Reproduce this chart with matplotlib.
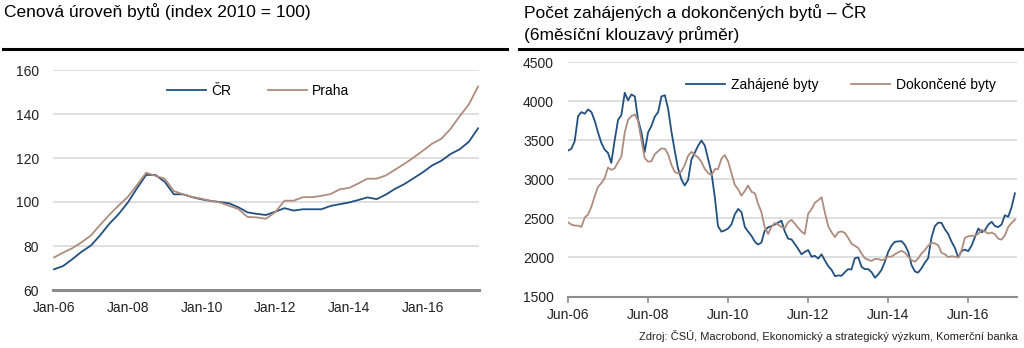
import matplotlib
matplotlib.use("Agg")
import matplotlib.pyplot as plt
import matplotlib.dates as mdates
from matplotlib.lines import Line2D
import pandas as pd

plt.rcParams['font.family'] = ['Liberation Sans', 'DejaVu Sans']

BLUE = '#23507f'
BROWN = '#ae8c7e'
GRID = '#d9d9d9'
AXIS = '#8c8c8c'

# --- left chart: price index, quarterly (Q1 2006 .. Q3 2017)
price_dates = pd.date_range('2006-01-01', periods=47, freq='QS')
cr = [69.4, 70.9, 74.0, 77.4, 80.2, 84.8, 90.0, 94.4, 99.7, 106.2,
      112.3, 112.3, 109.2, 103.5, 103.5, 102.2, 101.2, 100.5, 100.0, 99.4,
      97.6, 95.3, 94.6, 94.1, 95.6, 97.2, 96.1, 96.7, 96.7, 96.7,
      98.2, 99.0, 99.8, 100.9, 102.1, 101.3, 103.4, 106.0, 108.1, 110.8,
      113.5, 116.6, 118.7, 121.8, 124.0, 127.4, 133.5]
praha = [74.8, 77.0, 79.0, 81.7, 84.8, 89.5, 94.1, 98.3, 102.3, 107.6,
         113.3, 111.9, 110.6, 105.0, 103.5, 102.3, 101.5, 100.5, 99.8, 98.3,
         96.8, 93.2, 93.0, 92.4, 95.4, 100.6, 100.6, 102.2, 102.2, 102.8,
         103.6, 105.8, 106.4, 108.4, 110.6, 110.6, 112.1, 114.7, 117.3, 120.2,
         123.3, 126.5, 128.7, 133.2, 139.1, 144.4, 152.5]

# --- right chart: housing starts / completions, monthly (Jun 2006 .. Aug 2017)
flat_dates = pd.date_range('2006-06-01', periods=135, freq='MS')
zahajene = [3367, 3389, 3487, 3808, 3859, 3838, 3893, 3859, 3744, 3603,
            3466, 3380, 3338, 3209, 3500, 3760, 3820, 4107, 4010, 4085,
            4060, 3765, 3600, 3350, 3600, 3680, 3800, 3860, 4060, 4075,
            3900, 3600, 3350, 3140, 3000, 2920, 2990, 3250, 3340, 3430,
            3495, 3430, 3260, 3080, 2760, 2400, 2330, 2345, 2370, 2420,
            2550, 2620, 2580, 2390, 2330, 2275, 2200, 2165, 2190, 2340,
            2385, 2400, 2420, 2445, 2470, 2330, 2240, 2230, 2170, 2110,
            2040, 2070, 2095, 2010, 2020, 1985, 2040, 1960, 1890, 1840,
            1760, 1770, 1765, 1810, 1850, 1845, 1990, 2000, 1880, 1850,
            1850, 1810, 1740, 1780, 1840, 1940, 2070, 2150, 2200, 2205,
            2208, 2160, 2073, 1900, 1820, 1805, 1860, 1930, 1990, 2250,
            2400, 2445, 2442, 2360, 2300, 2200, 2120, 2000, 2080, 2100,
            2080, 2150, 2260, 2370, 2320, 2350, 2420, 2455, 2400, 2388,
            2420, 2540, 2520, 2640, 2820]
dokoncene = [2450, 2420, 2407, 2407, 2390, 2510, 2550, 2650, 2790, 2900,
             2950, 3010, 3150, 3120, 3140, 3220, 3290, 3600, 3760, 3808,
             3829, 3750, 3500, 3270, 3225, 3230, 3320, 3360, 3395, 3390,
             3320, 3180, 3090, 3075, 3100, 3180, 3300, 3350, 3310, 3280,
             3220, 3130, 3080, 3050, 3130, 3128, 3260, 3310, 3230, 3080,
             2930, 2870, 2790, 2850, 2920, 2840, 2820, 2690, 2580, 2390,
             2300, 2390, 2440, 2420, 2390, 2375, 2450, 2480, 2430, 2380,
             2330, 2300, 2560, 2615, 2700, 2730, 2770, 2571, 2400, 2320,
             2260, 2320, 2333, 2315, 2250, 2175, 2150, 2120, 2050, 1990,
             1970, 1955, 1980, 1980, 1965, 1975, 2010, 2010, 2040, 2065,
             2085, 2060, 2010, 1965, 1945, 1985, 2050, 2090, 2150, 2185,
             2180, 2155, 2060, 2040, 2005, 2015, 2009, 2000, 2090, 2250,
             2270, 2276, 2280, 2300, 2355, 2330, 2305, 2318, 2295, 2240,
             2228, 2280, 2390, 2440, 2483]

W, H = 1024, 348
fig = plt.figure(figsize=(W / 100, H / 100), dpi=100)

# titles and the black rules under them
fig.text(4 / W, 1 - 12 / H, 'Cenová úroveň bytů (index 2010 = 100)',
         fontsize=12.5, va='center', ha='left')
fig.text(524 / W, 1 - 12 / H, 'Počet zahájených a dokončených bytů – ČR',
         fontsize=12.5, va='center', ha='left')
fig.text(524 / W, 1 - 35 / H, '(6měsíční klouzavý průměr)',
         fontsize=12.5, va='center', ha='left')
fig.add_artist(Line2D([3 / W, 507 / W], [1 - 49 / H] * 2, color='black', lw=2.2))
fig.add_artist(Line2D([519 / W, 1022 / W], [1 - 49 / H] * 2, color='black', lw=2.2))

# left chart
ax1 = fig.add_axes([53 / W, 58 / H, 426 / W, 220 / H])
ax1.plot(price_dates, cr, color=BLUE, lw=1.3, label='ČR')
ax1.plot(price_dates, praha, color=BROWN, lw=1.3, label='Praha')
ax1.set_ylim(60, 160)
ax1.set_yticks(range(60, 161, 20))
ax1.set_xlim(pd.Timestamp('2005-12-22'), pd.Timestamp('2017-07-10'))
ax1.set_xticks([pd.Timestamp(f'{y}-01-01') for y in range(2006, 2017, 2)])
ax1.xaxis.set_major_formatter(mdates.DateFormatter('%b-%y'))
ax1.yaxis.grid(True, color=GRID, lw=1.2)
ax1.set_axisbelow(True)
for s in ['top', 'right', 'left']:
    ax1.spines[s].set_visible(False)
ax1.spines['bottom'].set_color(AXIS)
ax1.spines['bottom'].set_linewidth(2.2)
ax1.tick_params(axis='both', length=0, labelsize=10, colors='#222222')
ax1.tick_params(axis='y', pad=10)
ax1.tick_params(axis='x', pad=8)
ax1.legend(loc='center left', bbox_to_anchor=(0.268, 0.905), ncol=2,
           frameon=False, fontsize=10, handlelength=2.8, handletextpad=0.4,
           columnspacing=2.6, borderpad=0, borderaxespad=0)

# right chart
ax2 = fig.add_axes([568 / W, 51.5 / H, 449 / W, 234.5 / H])
ax2.plot(flat_dates, zahajene, color=BLUE, lw=1.3, label='Zahájené byty')
ax2.plot(flat_dates, dokoncene, color=BROWN, lw=1.3, label='Dokončené byty')
ax2.set_ylim(1500, 4500)
ax2.set_yticks(range(1500, 4501, 500))
ax2.set_xlim(pd.Timestamp('2006-06-01'), pd.Timestamp('2017-08-20'))
ax2.set_xticks([pd.Timestamp(f'{y}-06-01') for y in range(2006, 2017, 2)])
ax2.xaxis.set_major_formatter(mdates.DateFormatter('%b-%y'))
ax2.yaxis.grid(True, color=GRID, lw=1.2)
ax2.set_axisbelow(True)
for s in ['top', 'right', 'left']:
    ax2.spines[s].set_visible(False)
ax2.spines['bottom'].set_color(AXIS)
ax2.spines['bottom'].set_linewidth(1.5)
ax2.tick_params(axis='y', length=0, labelsize=10, colors='#222222', pad=10)
ax2.tick_params(axis='x', length=4, width=1.2, color=AXIS, labelsize=10,
                labelcolor='#222222', pad=4)
ax2.legend(loc='center left', bbox_to_anchor=(0.263, 0.903), ncol=2,
           frameon=False, fontsize=10, handlelength=2.8, handletextpad=0.4,
           columnspacing=2.4, borderpad=0, borderaxespad=0)

fig.text(1018 / W, 1 - 336 / H,
         'Zdroj: ČSÚ, Macrobond, Ekonomický a strategický výzkum, Komerční banka',
         fontsize=8, ha='right', va='center', color='#222222')

fig.savefig('out.png', dpi=100)
